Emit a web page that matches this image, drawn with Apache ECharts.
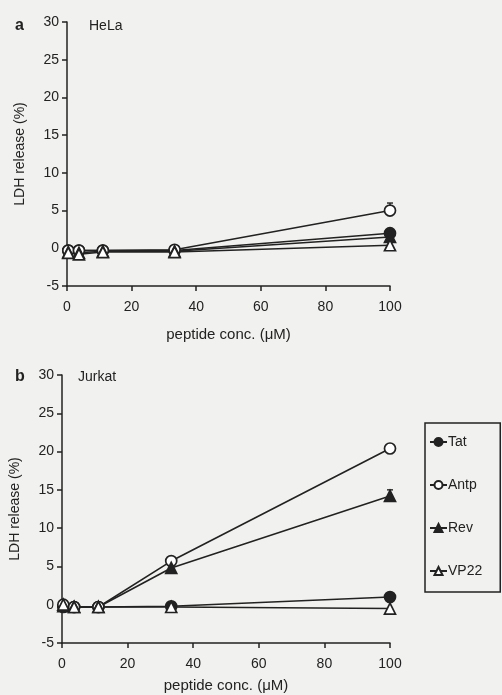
<!DOCTYPE html>
<html>
<head>
<meta charset="utf-8">
<script src="https://cdn.jsdelivr.net/npm/echarts@6/dist/echarts.min.js"></script>
<style>
  html, body { margin: 0; padding: 0; background: #f1f1ef; }
  #chart { width: 502px; height: 695px; }
</style>
</head>
<body>
<div id="chart"></div>
<script>
// peptide concentrations (uM)
const conc = [0.4, 3.7, 11.1, 33.3, 100];
const seriesNames = ['Tat', 'Antp', 'Rev', 'VP22'];
const yTicks = [-5, 0, 5, 10, 15, 20, 25, 30];
const xTicks = [0, 20, 40, 60, 80, 100];

// panel a: HeLa
const helaTat = [-0.3, -0.3, -0.3, -0.3, 2.0];
const helaAntp = [-0.3, -0.3, -0.3, -0.2, 5.0];
const helaRev = [-0.5, -0.6, -0.4, -0.4, 1.5];
const helaVP22 = [-0.6, -0.8, -0.5, -0.5, 0.4];
const helaAntpErr = [0, 0, 0, 0, 1.0];

// panel b: Jurkat
const jurkatTat = [-0.3, -0.3, -0.3, -0.2, 1.0];
const jurkatAntp = [0, -0.3, -0.3, 5.7, 20.4];
const jurkatRev = [-0.2, -0.3, -0.3, 4.8, 14.2];
const jurkatVP22 = [0, -0.3, -0.3, -0.3, -0.5];
const jurkatRevErr = [0, 0, 0, 0, 0.8];

const ink = '#222';
const font = '"Liberation Sans", Arial, sans-serif';

const markers = {
  Tat: { symbol: 'circle', fill: ink },
  Antp: { symbol: 'circle', fill: '#fff' },
  Rev: { symbol: 'triangle', fill: ink },
  VP22: { symbol: 'triangle', fill: '#fff' },
};

function pairs(vals) {
  return conc.map((c, i) => [c, vals[i]]);
}

function lineSeries(name, vals, idx) {
  const m = markers[name];
  return {
    name: name,
    type: 'line',
    xAxisIndex: idx,
    yAxisIndex: idx,
    data: pairs(vals),
    symbol: m.symbol,
    symbolSize: 11,
    showSymbol: true,
    lineStyle: { color: ink, width: 1.6 },
    itemStyle: { color: m.fill, borderColor: ink, borderWidth: 1.7 },
    z: 3,
  };
}

function errSeries(vals, errs, idx) {
  return {
    type: 'custom',
    xAxisIndex: idx,
    yAxisIndex: idx,
    data: conc.map((c, i) => [c, vals[i], errs[i]]).filter(d => d[2] > 0),
    renderItem: function (params, api) {
      const top = api.coord([api.value(0), api.value(1) + api.value(2)]);
      const mid = api.coord([api.value(0), api.value(1)]);
      return {
        type: 'group',
        children: [
          { type: 'line', shape: { x1: mid[0], y1: mid[1], x2: top[0], y2: top[1] }, style: { stroke: ink, lineWidth: 1.4 } },
          { type: 'line', shape: { x1: top[0] - 3, y1: top[1], x2: top[0] + 3, y2: top[1] }, style: { stroke: ink, lineWidth: 1.4 } },
        ],
      };
    },
    z: 2,
  };
}

function xAxis(idx, gap) {
  return {
    type: 'value',
    gridIndex: idx,
    min: 0,
    max: 100,
    interval: 20,
    name: 'peptide conc. (\u03bcM)',
    nameLocation: 'middle',
    nameGap: gap,
    nameTextStyle: { color: ink, fontSize: 15, fontFamily: font },
    axisLine: { onZero: false, lineStyle: { color: ink, width: 1.5 } },
    axisTick: { lineStyle: { color: ink, width: 1.5 }, length: 5 },
    axisLabel: { color: ink, fontSize: 14, fontFamily: font, margin: 14,
      formatter: v => xTicks.includes(v) ? String(v) : '' },
    splitLine: { show: false },
  };
}

function yAxis(idx) {
  return {
    type: 'value',
    gridIndex: idx,
    min: -5,
    max: 30,
    interval: 5,
    name: 'LDH release (%)',
    nameLocation: 'middle',
    nameGap: 40,
    nameTextStyle: { color: ink, fontSize: 14, fontFamily: font },
    axisLine: { show: true, onZero: false, lineStyle: { color: ink, width: 1.5 } },
    axisTick: { show: true, lineStyle: { color: ink, width: 1.5 }, length: 5 },
    axisLabel: { color: ink, fontSize: 14, fontFamily: font, margin: 8,
      formatter: v => yTicks.includes(v) ? String(v) : '' },
    splitLine: { show: false },
  };
}

const chart = echarts.init(document.getElementById('chart'));
chart.setOption({
  backgroundColor: '#f1f1ef',
  animation: false,
  title: [
    { text: 'a', left: 10, top: 13, textStyle: { color: ink, fontSize: 16, fontWeight: 'bold', fontFamily: font } },
    { text: 'HeLa', left: 84, top: 14, textStyle: { color: ink, fontSize: 14, fontWeight: 'normal', fontFamily: font } },
    { text: 'b', left: 10, top: 364, textStyle: { color: ink, fontSize: 16, fontWeight: 'bold', fontFamily: font } },
    { text: 'Jurkat', left: 73, top: 365, textStyle: { color: ink, fontSize: 14, fontWeight: 'normal', fontFamily: font } },
  ],
  legend: {
    data: seriesNames,
    orient: 'vertical',
    left: 425,
    top: 423,
    itemWidth: 17,
    itemHeight: 10,
    itemGap: 29,
    padding: [12, 18, 14, 4],
    borderColor: ink,
    borderWidth: 1.5,
    textStyle: { color: ink, fontSize: 14, fontFamily: font, padding: [0, 0, 0, -4] },
    selectedMode: false,
  },
  grid: [
    { left: 67, top: 22, width: 323, height: 264, outerBoundsMode: 'none' },
    { left: 62, top: 375, width: 328, height: 268, outerBoundsMode: 'none' },
  ],
  xAxis: [xAxis(0, 41), xAxis(1, 35)],
  yAxis: [yAxis(0), yAxis(1)],
  series: [
    lineSeries('Tat', helaTat, 0),
    lineSeries('Antp', helaAntp, 0),
    lineSeries('Rev', helaRev, 0),
    lineSeries('VP22', helaVP22, 0),
    errSeries(helaAntp, helaAntpErr, 0),
    lineSeries('Tat', jurkatTat, 1),
    lineSeries('Antp', jurkatAntp, 1),
    lineSeries('Rev', jurkatRev, 1),
    lineSeries('VP22', jurkatVP22, 1),
    errSeries(jurkatRev, jurkatRevErr, 1),
  ],
});
</script>
</body>
</html>
